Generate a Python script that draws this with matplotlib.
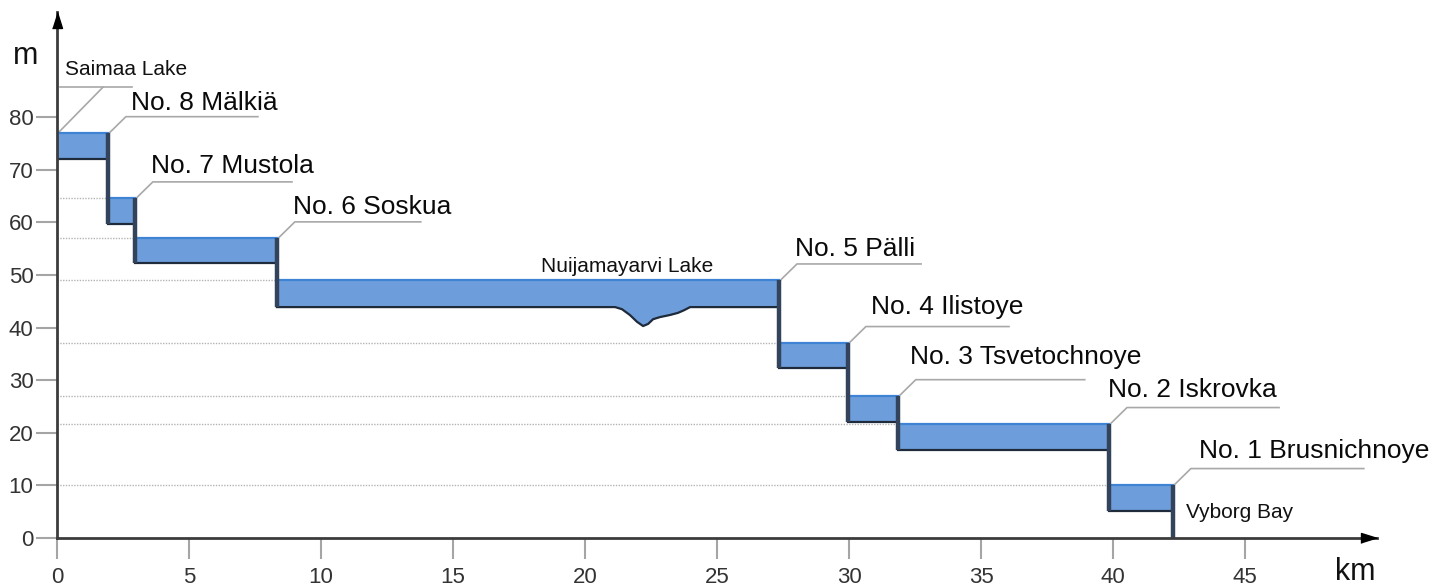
import matplotlib
matplotlib.use("Agg")
import matplotlib.pyplot as plt

plt.rcParams['font.family'] = ['Liberation Sans', 'DejaVu Sans']

# ---------------- data ----------------
lock_names = ["No. 8 Mälkiä", "No. 7 Mustola", "No. 6 Soskua", "No. 5 Pälli",
              "No. 4 Ilistoye", "No. 3 Tsvetochnoye", "No. 2 Iskrovka",
              "No. 1 Brusnichnoye"]
lock_km = [1.93, 2.95, 8.33, 27.35, 29.96, 31.85, 39.85, 42.27]
pool_top = [77.0, 64.6, 57.0, 49.0, 37.1, 27.0, 21.7, 10.1]
pool_bottom = [72.0, 59.7, 52.3, 43.9, 32.3, 22.0, 16.7, 5.1]
# bottom profile of Nuijamayarvi Lake (pool index 3)
lake_dip_km = [21.14, 21.40, 21.70, 21.97, 22.20, 22.39, 22.58, 22.84, 23.22, 23.52, 23.75, 23.98]
lake_dip_m = [43.9, 43.5, 42.4, 41.1, 40.3, 40.7, 41.6, 42.0, 42.4, 42.8, 43.3, 43.9]
x_ticks = [0, 5, 10, 15, 20, 25, 30, 35, 40, 45]
y_ticks = [0, 10, 20, 30, 40, 50, 60, 70, 80]
saimaa_label = "Saimaa Lake"
lake_label = "Nuijamayarvi Lake"
bay_label = "Vyborg Bay"

# ---------------- style ----------------
leader_len = [5.0, 5.27, 4.77, 4.70, 5.42, 6.4, 5.76, 6.55]
text_dx = [0.19, -0.08, -0.08, -0.08, 0.19, -0.23, -0.72, 0.30]
text_dy = [1.33, 1.71, 1.52, 1.52, 2.47, 3.04, 2.09, 2.09]
FILL = '#6d9edb'
TOP_EDGE = '#3f84d4'
BOTTOM_EDGE = '#1f2a3a'
LOCK = '#34435c'
GRID = '#b4b4b4'
LEADER = '#a8a8a8'

fig = plt.figure(figsize=(14.46, 5.86), dpi=100)
ax = fig.add_axes([57 / 1446, 48 / 586, 1320 / 1446, 526 / 586])
ax.set_xlim(0, 50)
ax.set_ylim(0, 100)

pool_start = [0.0] + lock_km[:-1]

# dotted level guide lines
for i in range(1, len(pool_top)):
    ax.plot([0, pool_start[i]], [pool_top[i], pool_top[i]], color=GRID,
            lw=1.0, ls=(0, (1, 1)), zorder=1)

# pools
for i in range(len(pool_top)):
    x0, x1 = pool_start[i], lock_km[i]
    if i == 3:
        xs = [x0] + lake_dip_km + [x1]
        bs = [pool_bottom[i]] + lake_dip_m + [pool_bottom[i]]
    else:
        xs = [x0, x1]
        bs = [pool_bottom[i], pool_bottom[i]]
    ax.fill_between(xs, bs, pool_top[i], color=FILL, lw=0, zorder=2)
    ax.plot([x0, x1], [pool_top[i], pool_top[i]], color=TOP_EDGE, lw=1.6, zorder=3)
    ax.plot(xs, bs, color=BOTTOM_EDGE, lw=1.6, zorder=3)

# locks
for i in range(len(lock_km)):
    low = pool_bottom[i + 1] if i + 1 < len(pool_bottom) else 0.0
    ax.plot([lock_km[i], lock_km[i]], [pool_top[i], low], color=LOCK,
            lw=3.2, solid_capstyle='butt', zorder=4)

# lock labels with leader lines
rise, run = 3.1, 0.68
for i, name in enumerate(lock_names):
    lx, ly = lock_km[i], pool_top[i]
    sx, sy = lx + run, ly + rise
    ax.plot([lx + 0.05, sx, sx + leader_len[i]], [ly, sy, sy], color=LEADER,
            lw=1.2, zorder=2, clip_on=False)
    ax.text(sx + text_dx[i], sy + text_dy[i], name, fontsize=19,
            va='baseline', ha='left', color='#0a0a0a', zorder=5)

# Saimaa lake label
ax.plot([0.1, 2.84], [85.7, 85.7], color=LEADER, lw=1.2, zorder=2)
ax.plot([1.74, 0.04], [85.7, pool_top[0]], color=LEADER, lw=1.2, zorder=2)
ax.text(0.3, 88.0, saimaa_label, fontsize=15, va='baseline', ha='left', color='#111111')

# Nuijamayarvi Lake label
ax.text(18.33, 50.6, lake_label, fontsize=15, va='baseline', ha='left',
        color='#111111', zorder=5)
# Vyborg Bay
ax.text(42.75, 3.8, bay_label, fontsize=15, va='baseline', ha='left', color='#111111')

# axes styling
for s in ['top', 'right']:
    ax.spines[s].set_visible(False)
for s in ['left', 'bottom']:
    ax.spines[s].set_color('#3c3c3c')
    ax.spines[s].set_linewidth(2)
    ax.spines[s].set_zorder(6)
ax.set_xticks(x_ticks)
ax.set_yticks(y_ticks)
ax.tick_params(axis='both', direction='out', length=15, width=1.5, color='#a5a5a5',
               labelsize=16, labelcolor='#333333')
ax.tick_params(axis='x', pad=6)
ax.tick_params(axis='y', pad=2)

# axis arrows
tri_up = [(-5, -8), (5, -8), (0, 8)]
tri_right = [(-8, -5), (-8, 5), (8, 0)]
ax.plot([0], [98.5], marker=tri_up, ms=11.5, color='black', clip_on=False, zorder=7)
ax.plot([49.69], [0], marker=tri_right, ms=11.5, color='black', clip_on=False, zorder=7)

# axis unit labels
ax.text(-1.67, 90.1, 'm', fontsize=22, va='baseline', ha='left', color='#111111')
ax.text(48.4, -7.9, 'km', fontsize=22, va='baseline', ha='left', color='#111111')

fig.savefig('out.png', dpi=100)
